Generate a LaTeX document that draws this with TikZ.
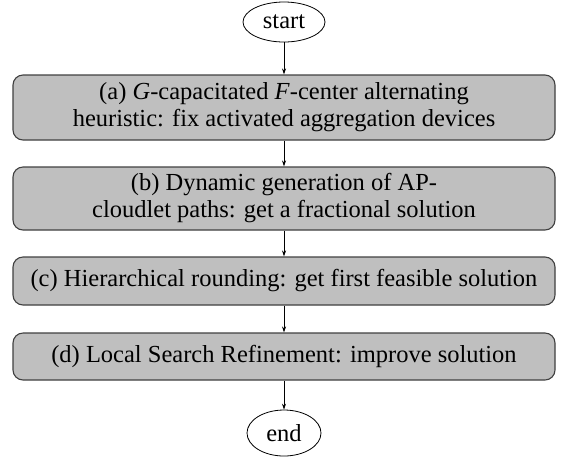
\documentclass[tikz,border=0pt]{standalone}
\usepackage{fontspec}
\setmainfont{Liberation Serif}
\usetikzlibrary{shapes.geometric,arrows.meta}
\begin{document}
\begin{tikzpicture}[x=1pt,y=-1pt,
  procbox/.style={draw=black!75, line width=1.1pt, fill=black!25, rounded corners=10pt,
    minimum width=542pt, align=center, inner sep=0pt, font=\fontsize{24.5}{27}\selectfont},
  term/.style={draw, ellipse, line width=0.8pt, inner sep=0pt, font=\fontsize{24.5}{27}\selectfont},
  flow/.style={-{Stealth[length=6pt,width=4pt]}, line width=0.7pt}]
\useasboundingbox (0,0) rectangle (561,459);
\node[term, minimum width=82pt, minimum height=40pt] (start) at (284,22) {start};
\node[procbox, minimum height=65pt] (a) at (284,107.5)
  {(a) \textit{G}-capacitated \textit{F}-center alternating\\heuristic: fix activated aggregation devices};
\node[procbox, minimum height=63pt] (b) at (284,198.5)
  {(b) Dynamic generation of AP-\\cloudlet paths: get a fractional solution};
\node[procbox, minimum height=48pt] (c) at (284,281)
  {(c) Hierarchical rounding: get first feasible solution};
\node[procbox, minimum height=47pt] (d) at (284,356.5)
  {(d) Local Search Refinement: improve solution};
\node[term, minimum width=74pt, minimum height=46pt] (end) at (284,433) {end};
\draw[flow] (start) -- (a);
\draw[flow] (a) -- (b);
\draw[flow] (b) -- (c);
\draw[flow] (c) -- (d);
\draw[flow] (d) -- (end);
\end{tikzpicture}
\end{document}
